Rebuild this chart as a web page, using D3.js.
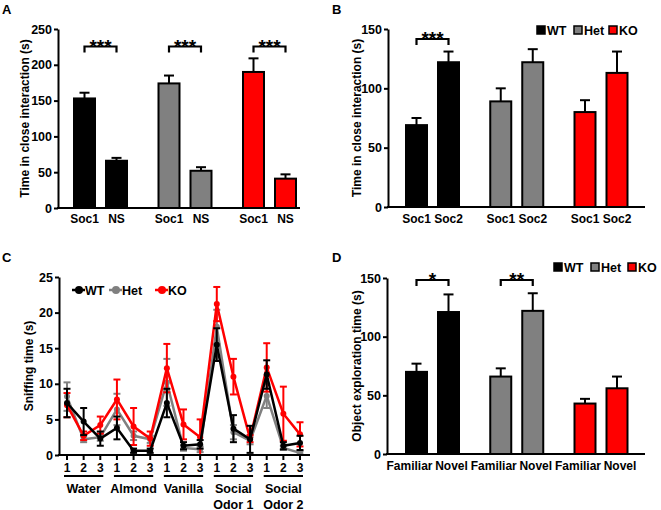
<!DOCTYPE html>
<html><head><meta charset="utf-8">
<script src="https://cdn.jsdelivr.net/npm/d3@7"></script>
<style>
body{margin:0;background:#fff}
svg{display:block}
text{font-family:"Liberation Sans",Arial,sans-serif;font-weight:bold;fill:#000}
</style>
</head><body>
<svg id="c" width="661" height="510"></svg>
<script>
// ---------- data ----------
const genotypes = ["WT", "Het", "KO"];
const colors = ["#000000", "#808080", "#ff0000"];

// Panel A
const aConds = ["Soc1", "NS"];
const aMean = [[153, 66], [174, 52], [190, 41]];
const aErr = [[8, 4], [11, 5], [19, 6]];
const aTicks = [0, 50, 100, 150, 200, 250];
const aSig = ["***", "***", "***"];

// Panel B
const bConds = ["Soc1", "Soc2"];
const bMean = [[69, 122], [89, 122], [80, 113]];
const bErr = [[6, 9], [11, 11], [10, 18]];
const bTicks = [0, 50, 100, 150];
const bSig = ["***", "", ""];

// Panel C
const cTrials = ["1", "2", "3", "1", "2", "3", "1", "2", "3", "1", "2", "3", "1", "2", "3"];
const cOdors = [["Water"], ["Almond"], ["Vanilla"], ["Social", "Odor 1"], ["Social", "Odor 2"]];
const cTicks = [0, 5, 10, 15, 20, 25];
const cWT = [7.3, 4.7, 2.3, 3.8, 0.6, 0.6, 7.3, 1.3, 1.5, 15.5, 3.7, 2.2, 11.3, 1.3, 1.7];
const cWTErr = [2.0, 1.9, 1.0, 1.6, 0.3, 0.3, 2.0, 0.5, 0.6, 2.3, 1.9, 1.9, 2.0, 0.5, 1.0];
const cHet = [8.2, 2.2, 2.5, 6.4, 2.7, 2.2, 10.2, 1.0, 0.8, 18.0, 3.2, 2.0, 8.3, 1.0, 0.3];
const cHetErr = [2.0, 0.4, 0.5, 2.2, 0.6, 0.5, 3.3, 0.4, 0.4, 2.4, 1.0, 0.5, 1.7, 0.3, 0.2];
const cKO = [7.0, 2.7, 4.2, 7.8, 4.0, 2.3, 12.2, 4.3, 2.5, 21.2, 11.0, 2.3, 12.3, 5.8, 2.9];
const cKOErr = [1.7, 0.6, 1.2, 2.8, 2.6, 1.0, 3.4, 2.1, 2.5, 2.4, 2.5, 0.5, 3.4, 3.8, 1.7];

// Panel D
const dConds = ["Familiar", "Novel"];
const dMean = [[70, 121], [66, 122], [43, 56]];
const dErr = [[7, 15], [7, 15], [4, 10]];
const dTicks = [0, 50, 100, 150];
const dSig = ["*", "**", ""];

// ---------- drawing ----------
const svg = d3.select("#c");

function panelLetter(t, x, y) {
  svg.append("text").attr("x", x).attr("y", y).attr("font-size", 13).text(t);
}

function yAxis(g, y, ticks, xAxis) {
  const ax = g.append("g").attr("transform", `translate(${xAxis},0)`)
    .call(d3.axisLeft(y).tickValues(ticks).tickSize(4).tickSizeOuter(0).tickPadding(2));
  ax.attr("font-family", null).attr("font-size", null);
  ax.selectAll("path.domain").attr("stroke", "#000").attr("stroke-width", 2);
  ax.selectAll(".tick line").attr("stroke", "#000").attr("stroke-width", 2);
  ax.selectAll(".tick text").attr("font-size", 12.5).attr("fill", "#000");
  return ax;
}

function yTitle(g, text, x, yc) {
  g.append("text").attr("transform", `translate(${x},${yc}) rotate(-90)`)
    .attr("text-anchor", "middle").attr("font-size", 12).text(text);
}

function barPanel(o) {
  const g = svg.append("g");
  const y = d3.scaleLinear().domain([0, o.max]).range([o.yBot, o.yTop]);
  const xg = d3.scalePoint().domain(genotypes).range(o.groupRange);
  const xi = d3.scalePoint().domain(o.conds).range([-16, 16]);
  const bw = 21;
  const bars = [];
  genotypes.forEach((gt, gi) => o.conds.forEach((c, ci) => {
    bars.push({gt, gi, c, ci, v: o.mean[gi][ci], e: o.err[gi][ci], cx: xg(gt) + xi(c)});
  }));
  // error bars (upper only)
  g.selectAll("line.eb").data(bars).join("line")
    .attr("x1", d => d.cx).attr("x2", d => d.cx)
    .attr("y1", d => y(d.v)).attr("y2", d => y(d.v + d.e))
    .attr("stroke", "#000").attr("stroke-width", 2);
  g.selectAll("line.cap").data(bars).join("line")
    .attr("x1", d => d.cx - 5).attr("x2", d => d.cx + 5)
    .attr("y1", d => y(d.v + d.e)).attr("y2", d => y(d.v + d.e))
    .attr("stroke", "#000").attr("stroke-width", 2);
  g.selectAll("rect.bar").data(bars).join("rect")
    .attr("x", d => d.cx - bw / 2).attr("width", bw)
    .attr("y", d => y(d.v)).attr("height", d => y(0) - y(d.v))
    .attr("fill", d => colors[d.gi]).attr("stroke", "#000").attr("stroke-width", 2);
  // axes
  yAxis(g, y, o.ticks, o.xAxis);
  g.append("line").attr("x1", o.xAxis - 1).attr("x2", o.xEnd)
    .attr("y1", y(0)).attr("y2", y(0)).attr("stroke", "#000").attr("stroke-width", 2);
  // category labels
  g.selectAll("text.cat").data(bars).join("text")
    .attr("x", d => d.cx + (o.labelDx ? o.labelDx[d.ci] : 0)).attr("y", o.labelY)
    .attr("text-anchor", "middle").attr("font-size", 12).text(d => d.c);
  // significance
  genotypes.forEach((gt, gi) => {
    const s = o.sig[gi];
    if (!s) return;
    const x1 = xg(gt) + xi(o.conds[0]), x2 = xg(gt) + xi(o.conds[1]);
    const by = o.bracketY;
    g.append("path").attr("d", `M${x1},${by + 6}V${by}H${x2}V${by + 6}`)
      .attr("fill", "none").attr("stroke", "#000").attr("stroke-width", 2.2);
    g.append("text").attr("x", (x1 + x2) / 2).attr("y", by + 6)
      .attr("text-anchor", "middle").attr("font-size", 19).attr("font-weight", "normal")
      .text(s);
  });
  yTitle(g, o.title, o.titleX, (o.yTop + o.yBot) / 2);
  if (o.legend) {
    const lg = g.append("g");
    genotypes.forEach((gt, gi) => {
      lg.append("rect").attr("x", o.legend[gi]).attr("y", o.legendY - 9).attr("width", 8).attr("height", 8)
        .attr("fill", colors[gi]).attr("stroke", "#000").attr("stroke-width", 1.5);
      lg.append("text").attr("x", o.legend[gi] + 10).attr("y", o.legendY).attr("font-size", 12.5).text(gt);
    });
  }
}

// Panel A
panelLetter("A", 2, 14);
barPanel({yTop: 29, yBot: 208, max: 250, ticks: aTicks, xAxis: 58, xEnd: 300,
  groupRange: [100.5, 269.5], conds: aConds, mean: aMean, err: aErr, sig: aSig,
  bracketY: 46.5, labelY: 223, title: "Time in close interaction (s)", titleX: 29});

// Panel B
panelLetter("B", 332, 14);
barPanel({yTop: 29, yBot: 207, max: 150, ticks: bTicks, xAxis: 388, xEnd: 645,
  groupRange: [432.5, 601], conds: bConds, mean: bMean, err: bErr, sig: bSig,
  bracketY: 39, labelY: 223, title: "Time in close interaction (s)", titleX: 361,
  legend: [537, 574, 609], legendY: 35});

// Panel D
panelLetter("D", 332, 262);
barPanel({yTop: 278, yBot: 454, max: 150, ticks: dTicks, xAxis: 387, xEnd: 645,
  groupRange: [432.5, 601], conds: dConds, mean: dMean, err: dErr, sig: dSig,
  bracketY: 280, labelY: 470, labelDx: [-7, 3], title: "Object exploration time (s)", titleX: 361,
  legend: [554, 591, 628], legendY: 272});

// Panel C
panelLetter("C", 2, 262);
(function () {
  const g = svg.append("g");
  const y = d3.scaleLinear().domain([0, 25]).range([455, 277]);
  const x = d3.scalePoint().domain(d3.range(cTrials.length)).range([67, 300]);
  const series = [
    {name: "Het", v: cHet, e: cHetErr, col: colors[1]},
    {name: "KO", v: cKO, e: cKOErr, col: colors[2]},
    {name: "WT", v: cWT, e: cWTErr, col: colors[0]}
  ];
  series.forEach(s => {
    const sg = g.append("g");
    const pts = s.v.map((v, i) => ({i, v, e: s.e[i]}));
    sg.append("path").datum(pts)
      .attr("d", d3.line().x(d => x(d.i)).y(d => y(d.v)))
      .attr("fill", "none").attr("stroke", s.col).attr("stroke-width", 2.5);
    sg.selectAll("line.eb").data(pts).join("line")
      .attr("x1", d => x(d.i)).attr("x2", d => x(d.i))
      .attr("y1", d => y(Math.max(0, d.v - d.e))).attr("y2", d => y(d.v + d.e))
      .attr("stroke", s.col).attr("stroke-width", 2);
    [1, -1].forEach(sgn => {
      sg.selectAll(null).data(pts).join("line")
        .attr("x1", d => x(d.i) - 3.5).attr("x2", d => x(d.i) + 3.5)
        .attr("y1", d => y(Math.max(0, d.v + sgn * d.e))).attr("y2", d => y(Math.max(0, d.v + sgn * d.e)))
        .attr("stroke", s.col).attr("stroke-width", 2);
    });
    sg.selectAll("circle").data(pts).join("circle")
      .attr("cx", d => x(d.i)).attr("cy", d => y(d.v)).attr("r", 3).attr("fill", s.col);
  });
  yAxis(g, y, cTicks, 59);
  g.append("line").attr("x1", 58).attr("x2", 310).attr("y1", 455).attr("y2", 455)
    .attr("stroke", "#000").attr("stroke-width", 2);
  g.selectAll("line.xt").data(d3.range(cTrials.length)).join("line")
    .attr("x1", d => x(d)).attr("x2", d => x(d)).attr("y1", 455).attr("y2", 460)
    .attr("stroke", "#000").attr("stroke-width", 2);
  g.selectAll("text.xt").data(cTrials).join("text")
    .attr("x", (d, i) => x(i)).attr("y", 472).attr("text-anchor", "middle").attr("font-size", 12).text(d => d);
  cOdors.forEach((lab, k) => {
    const x1 = x(k * 3) - 3, x2 = x(k * 3 + 2) + 3;
    g.append("line").attr("x1", x1).attr("x2", x2).attr("y1", 476).attr("y2", 476)
      .attr("stroke", "#000").attr("stroke-width", 2);
    lab.forEach((l, li) => {
      g.append("text").attr("x", (x1 + x2) / 2).attr("y", 493 + li * 15.5)
        .attr("text-anchor", "middle").attr("font-size", 12.5).text(l);
    });
  });
  yTitle(g, "Sniffing time (s)", 33, 366);
  // legend
  const legX = [79, 116, 162];
  const legS = [{n: "WT", c: colors[0]}, {n: "Het", c: colors[1]}, {n: "KO", c: colors[2]}];
  legS.forEach((s, i) => {
    g.append("line").attr("x1", legX[i] - 7).attr("x2", legX[i] + 6).attr("y1", 290).attr("y2", 290)
      .attr("stroke", s.c).attr("stroke-width", 2.5);
    g.append("circle").attr("cx", legX[i]).attr("cy", 290).attr("r", 4).attr("fill", s.c);
    g.append("text").attr("x", legX[i] + 6).attr("y", 295).attr("font-size", 12.5).text(s.n);
  });
})();
</script>
</body></html>
